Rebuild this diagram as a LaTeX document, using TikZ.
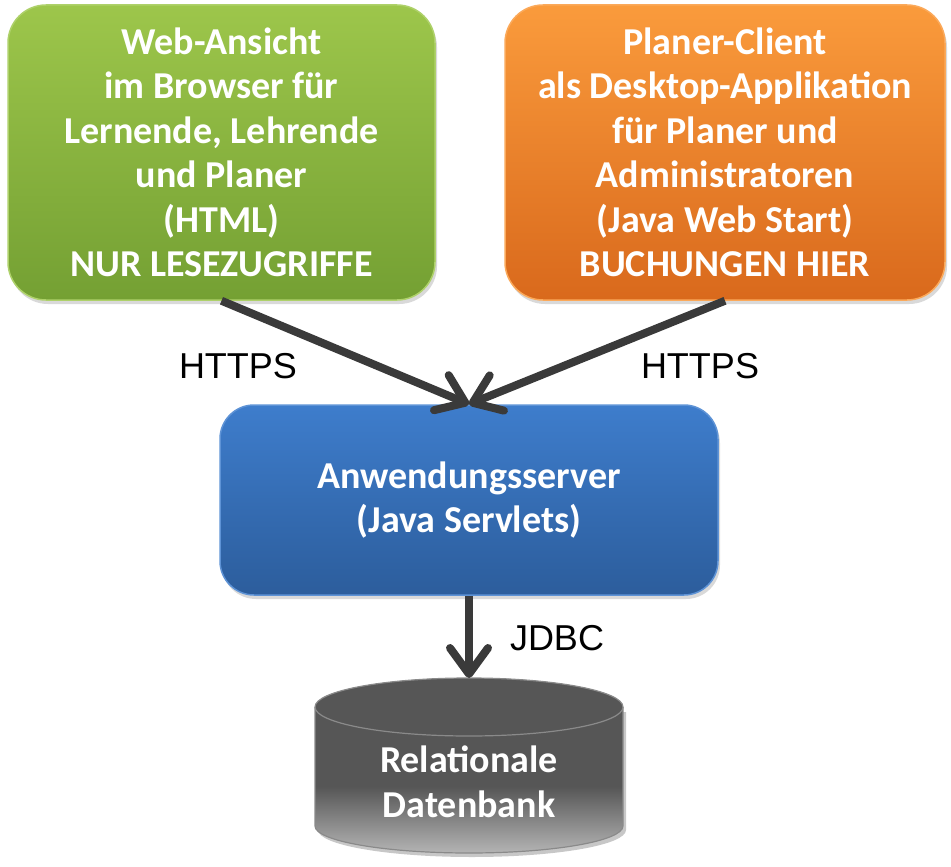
\documentclass[tikz,border=0pt]{standalone}
\usepackage{fontspec}
\setmainfont{Carlito}
\newfontfamily\arialfont{Liberation Sans}
\usetikzlibrary{arrows.meta,shadows,calc}
\definecolor{gtop}{HTML}{9DC64B}
\definecolor{gbot}{HTML}{74A033}
\definecolor{gedge}{HTML}{AED16A}
\definecolor{otop}{HTML}{FA9B3C}
\definecolor{obot}{HTML}{D9691C}
\definecolor{oedge}{HTML}{FBA95A}
\definecolor{btop}{HTML}{3E7DCC}
\definecolor{bbot}{HTML}{2C5D9C}
\definecolor{bedge}{HTML}{5E93D6}
\definecolor{dbtop}{HTML}{565656}
\definecolor{dbbot}{HTML}{B4B4B4}
\definecolor{dbedge}{HTML}{8A8A8A}
\definecolor{arrowc}{HTML}{3A3A3A}
\pgfdeclareverticalshading{dbshade}{100bp}{color(0bp)=(dbbot); color(25bp)=(dbbot); color(44bp)=(dbtop); color(100bp)=(dbtop)}
\tikzset{
  box/.style={rounded corners=38pt, line width=1.5pt, align=center,
    text=white, font=\fontsize{38}{44.5}\selectfont\bfseries,
    drop shadow={shadow xshift=2pt, shadow yshift=-4pt, opacity=0.3}},
  conn/.style={draw=arrowc, line width=8pt,
    -{Straight Barb[length=26pt,width=38pt,round]}},
  lbl/.style={font=\arialfont\fontsize{36}{40}\selectfont, text=black}
}
\begin{document}
\begin{tikzpicture}[x=1pt,y=-1pt]
\useasboundingbox (0,0) rectangle (951,867);
\node[box, minimum width=427pt, minimum height=295pt, draw=gedge,
  top color=gtop, bottom color=gbot] (web) at (221.5,152.5)
  {Web-Ansicht\\im Browser für\\Lernende, Lehrende\\und Planer\\(HTML)\\NUR LESEZUGRIFFE};
\node[box, minimum width=440pt, minimum height=295pt, draw=oedge,
  top color=otop, bottom color=obot] (client) at (725,152.5)
  {Planer-Client\\als Desktop-Applikation\\für Planer und\\Administratoren\\(Java Web Start)\\BUCHUNGEN HIER};
\node[box, rounded corners=34pt, minimum width=498pt, minimum height=190pt, draw=bedge,
  top color=btop, bottom color=bbot] (server) at (469,500)
  {Anwendungsserver\\(Java Servlets)};
% database cylinder
\fill[black, opacity=0.22] (318,712) -- (318,830) arc[start angle=180, end angle=0, x radius=154, y radius=27] -- (626,712) -- cycle;
\shade[shading=dbshade]
  (315,707) -- (315,826) arc[start angle=180, end angle=0, x radius=154, y radius=27]
  -- (623,707) arc[start angle=360, end angle=180, x radius=154, y radius=29] -- cycle;
\draw[dbedge, line width=1.2pt]
  (315,707) -- (315,826) arc[start angle=180, end angle=0, x radius=154, y radius=27]
  -- (623,707);
\draw[dbedge, line width=1.2pt, fill=dbtop] (469,707) ellipse[x radius=154, y radius=29];
\coordinate (dbtopc) at (469,678);
\node[align=center, text=white, font=\fontsize{38}{44.5}\selectfont\bfseries] (db) at (469,782)
  {Relationale\\Datenbank};
% connectors
\draw[conn] (web.south) -- (server.north);
\draw[conn] (client.south) -- (server.north);
\draw[conn] (server.south) -- (dbtopc);
\node[lbl] (h1) at (238,366) {HTTPS};
\node[lbl] (h2) at (700,366) {HTTPS};
\node[lbl] (jdbc) at (557,638) {JDBC};
\end{tikzpicture}
\end{document}
